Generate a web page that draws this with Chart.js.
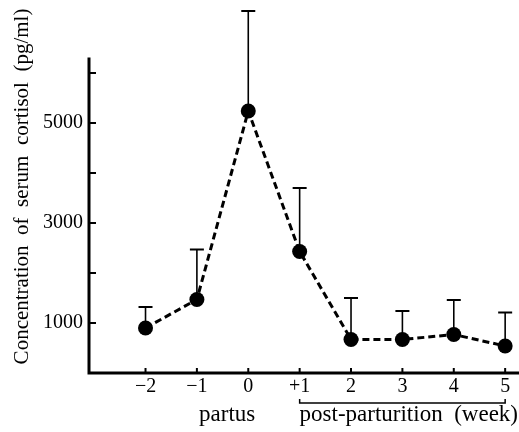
<!DOCTYPE html>
<html>
<head>
<meta charset="utf-8">
<script src="https://cdn.jsdelivr.net/npm/chart.js@4/dist/chart.umd.min.js"></script>
<style>
  html, body { margin: 0; padding: 0; background: #fff; overflow: hidden; }
</style>
</head>
<body>
<canvas id="chart" width="519" height="432"></canvas>
<script>
// weeks relative to partus
const weeks = [-2, -1, 0, 1, 2, 3, 4, 5];
const weekLabels = ['\u22122', '\u22121', '0', '+1', '2', '3', '4', '5'];
// serum cortisol (pg/ml), mean and upper SD
const cortisol = [900, 1470, 5240, 2430, 670, 670, 770, 540];
const cortisolSD = [420, 1000, 2000, 1270, 830, 570, 690, 670];
const yTicks = [1000, 2000, 3000, 4000, 5000, 6000];
const yLabelled = [1000, 3000, 5000];

const serif = "'Liberation Serif', 'DejaVu Serif', serif";
const ctx = document.getElementById('chart').getContext('2d');

// no extra room for the end labels, the plot fills the frame
function noPad(s) {
  s.paddingTop = 0; s.paddingBottom = 0;
  s.paddingLeft = 0; s.paddingRight = 0;
}

// axes, inward ticks, error bars and the bracket under the axis
const paperAxes = {
  id: 'paperAxes',
  beforeDatasetsDraw(chart) {
    const { ctx, scales: { x, y } } = chart;
    ctx.save();
    ctx.strokeStyle = '#000';
    weeks.forEach((w, i) => {
      const px = x.getPixelForValue(w);
      const top = y.getPixelForValue(cortisol[i] + cortisolSD[i]);
      ctx.lineWidth = 1.6;
      ctx.beginPath();
      ctx.moveTo(px, y.getPixelForValue(cortisol[i]));
      ctx.lineTo(px, top);
      ctx.stroke();
      ctx.lineWidth = 2;
      ctx.beginPath();
      ctx.moveTo(px - 7, top);
      ctx.lineTo(px + 7, top);
      ctx.stroke();
    });
    ctx.restore();
  },
  afterDraw(chart) {
    const { ctx, chartArea, scales: { x, y } } = chart;
    const x0 = chartArea.left, y0 = chartArea.bottom;
    ctx.save();
    ctx.strokeStyle = '#000';
    ctx.lineCap = 'square';
    ctx.lineWidth = 3;
    ctx.beginPath();
    ctx.moveTo(x0, y.getPixelForValue(6280));
    ctx.lineTo(x0, y0);
    ctx.lineTo(chartArea.right, y0);
    ctx.stroke();

    ctx.lineCap = 'butt';
    ctx.lineWidth = 2;
    yTicks.forEach(v => {
      const py = y.getPixelForValue(v);
      ctx.beginPath();
      ctx.moveTo(x0, py);
      ctx.lineTo(x0 + 7, py);
      ctx.stroke();
    });
    weeks.forEach(w => {
      const px = x.getPixelForValue(w);
      ctx.beginPath();
      ctx.moveTo(px, y0);
      ctx.lineTo(px, y0 - 5);
      ctx.stroke();
    });

    // bracket for post-parturition weeks
    const bx1 = x.getPixelForValue(1), bx2 = x.getPixelForValue(5);
    const by = y0 + 30;
    ctx.lineWidth = 1.5;
    ctx.beginPath();
    ctx.moveTo(bx1, by - 4);
    ctx.lineTo(bx1, by);
    ctx.lineTo(bx2, by);
    ctx.lineTo(bx2, by - 4);
    ctx.stroke();

    ctx.fillStyle = '#000';
    ctx.font = '23px ' + serif;
    ctx.textBaseline = 'alphabetic';
    ctx.textAlign = 'center';
    ctx.fillText('partus', x.getPixelForValue(-0.41), y0 + 48);
    ctx.textAlign = 'right';
    ctx.fillText('post-parturition  (week)', chartArea.right, y0 + 48);
    ctx.restore();
  }
};

new Chart(ctx, {
  type: 'line',
  data: {
    datasets: [{
      data: weeks.map((w, i) => ({ x: w, y: cortisol[i] })),
      borderColor: '#000',
      borderWidth: 3,
      borderDash: [7, 4],
      pointRadius: 7.5,
      pointBackgroundColor: '#000',
      pointBorderWidth: 0,
      tension: 0
    }]
  },
  options: {
    responsive: false,
    animation: false,
    layout: { autoPadding: false, padding: { left: 0, right: 1, top: 0, bottom: 0 } },
    plugins: { legend: { display: false }, tooltip: { enabled: false } },
    scales: {
      x: {
        type: 'linear',
        min: -3.1,
        max: 5.25,
        grid: { display: false, drawTicks: false },
        border: { display: false },
        afterBuildTicks: s => { s.ticks = weeks.map(v => ({ value: v })); },
        afterFit: s => { s.height = 59; noPad(s); },
        ticks: {
          padding: 2,
          color: '#000',
          font: { family: serif, size: 20 },
          callback: v => weekLabels[weeks.indexOf(v)]
        }
      },
      y: {
        min: 0,
        max: 7460,
        grid: { display: false, drawTicks: false },
        border: { display: false },
        afterBuildTicks: s => { s.ticks = yTicks.map(v => ({ value: v })); },
        afterFit: s => { s.width = 89; noPad(s); },
        ticks: {
          padding: 6,
          color: '#000',
          font: { family: serif, size: 20 },
          callback: v => yLabelled.includes(v) ? String(v) : ''
        },
        title: {
          display: true,
          text: 'Concentration  of  serum  cortisol  (pg/ml)',
          color: '#000',
          font: { family: serif, size: 21 },
          padding: { top: 10, bottom: 0 }
        }
      }
    }
  },
  plugins: [paperAxes]
});
</script>
</body>
</html>
